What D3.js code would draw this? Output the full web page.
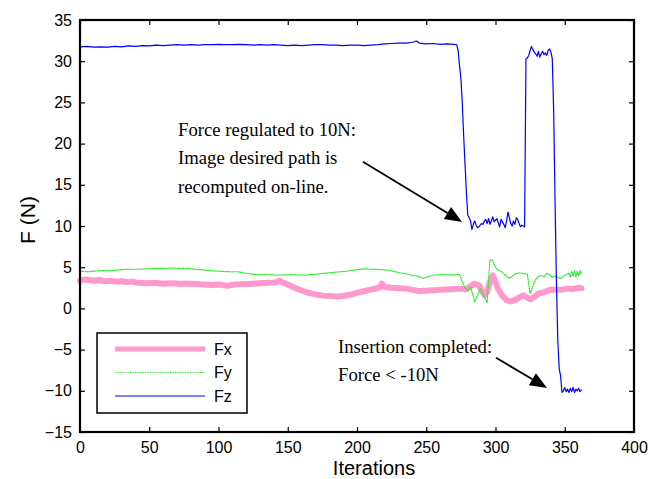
<!DOCTYPE html>
<html>
<head>
<meta charset="utf-8">
<script src="https://cdn.jsdelivr.net/npm/d3@7"></script>
<style>
  html, body { margin: 0; padding: 0; background: #fff; }
  svg { display: block; }
</style>
</head>
<body>
<svg id="chart" width="662" height="479"></svg>
<script>
// Force components measured during the peg insertion run (iteration, newtons)
const fxSamples = [
  [0,3.35],[3,3.5],[7,3.45],[10,3.35],[14,3.45],[18,3.3],[22,3.35],[26,3.25],[30,3.3],[34,3.2],
  [38,3.25],[42,3.1],[48,3.05],[54,3.1],[60,3.0],[66,3.05],[72,3.0],[78,3.0],[84,2.95],[90,2.9],
  [95,2.85],[100,2.9],[106,2.75],[112,2.9],[118,2.95],[124,3.0],[130,3.05],[136,3.1],[141,3.15],
  [144,3.35],[147,3.1],[150,2.9],[154,2.6],[158,2.3],[162,2.05],[166,1.85],[170,1.7],[175,1.55],
  [180,1.5],[185,1.45],[190,1.5],[195,1.65],[200,1.9],[204,2.05],[208,2.2],[212,2.35],[216,2.5],
  [218,3.0],[220,2.6],[225,2.5],[230,2.45],[235,2.4],[240,2.25],[245,2.1],[250,2.15],[255,2.2],
  [260,2.25],[265,2.3],[270,2.35],[275,2.4],[279,2.3],[282,2.7],[285,3.0],[288,2.8],[290,2.2],
  [292,1.6],[294,2.0],[296,3.3],[298,4.0],[300,3.2],[302,2.3],[305,1.5],[308,1.0],[311,0.85],
  [314,1.0],[317,1.3],[320,1.6],[322,1.4],[325,1.1],[328,1.4],[331,1.8],[334,1.9],[337,2.1],
  [340,2.3],[344,2.25],[348,2.3],[352,2.4],[356,2.35],[360,2.5],[362,2.45]
];

const fySamples = [
  [0,4.5],[6,4.45],[12,4.55],[18,4.6],[24,4.6],[30,4.7],[36,4.75],[42,4.75],[48,4.8],[54,4.85],
  [60,4.85],[66,4.9],[72,4.85],[78,4.85],[84,4.75],[90,4.65],[96,4.55],[102,4.5],[108,4.45],
  [114,4.45],[118,4.3],[122,4.2],[128,4.1],[134,4.1],[140,4.05],[146,4.05],[152,4.1],[158,4.05],
  [164,4.05],[170,4.15],[176,4.25],[182,4.35],[188,4.45],[194,4.55],[200,4.7],[206,4.8],[212,4.75],
  [218,4.7],[224,4.6],[230,4.35],[235,4.2],[240,4.0],[244,3.9],[248,3.65],[252,3.9],[256,4.05],
  [262,4.1],[268,4.05],[274,4.15],[276,3.2],[278,2.5],[280,2.2],[282,2.6],[285,0.8],[287,1.6],
  [289,2.4],[291,1.7],[294,0.7],[295,3.5],[296,5.9],[298,5.8],[300,5.0],[302,4.6],[304,4.5],
  [306,4.2],[308,3.9],[310,3.65],[312,3.9],[315,4.25],[318,4.3],[321,4.2],[323,4.15],[325,1.8],
  [327,2.7],[329,3.5],[331,3.9],[333,4.0],[335,3.8],[337,4.25],[339,4.1],[341,3.75],[343,3.9],
  [345,3.8],[347,3.6],[349,3.9],[351,4.1],[353,4.3],[354,3.8],[355,4.5],[356,3.9],[357,4.6],
  [358,3.8],[359,4.5],[360,4.0],[361,4.6],[362,4.1]
];

const fzSamples = [
  [0,31.75],[5,31.8],[10,31.7],[15,31.75],[20,31.7],[25,31.8],[30,31.75],[35,31.85],[40,31.8],
  [45,31.9],[50,31.85],[55,31.95],[60,31.9],[65,31.95],[70,32.0],[75,31.95],[80,32.0],[85,31.95],
  [90,32.0],[95,32.0],[100,32.05],[105,32.0],[110,32.0],[115,32.05],[120,32.0],[125,31.95],
  [130,32.0],[135,31.95],[140,32.0],[145,31.95],[150,31.9],[155,31.95],[160,31.9],[165,31.95],
  [170,32.0],[175,32.0],[180,31.95],[185,31.95],[190,31.9],[195,31.95],[200,31.95],[205,31.9],
  [210,31.95],[215,32.0],[220,32.1],[225,32.15],[230,32.2],[235,32.2],[240,32.3],[243,32.45],
  [245,32.2],[250,32.1],[255,32.15],[260,32.05],[265,32.1],[270,32.05],[272,32.0],
  [273,31.3],[274,29.5],[275,28.0],[276,25.0],[277,21.0],[278,17.5],[279,14.0],[280,11.3],
  [281,11.0],[282,10.6],[283,9.6],[284,10.2],[285,10.6],[286,10.1],[287,9.8],[288,9.9],[289,10.1],
  [290,10.3],[291,10.2],[292,10.6],[293,10.8],[294,10.3],[295,10.9],[296,10.2],[297,10.6],
  [298,11.1],[299,10.5],[300,10.7],[301,10.9],[302,10.4],[303,9.9],[304,10.8],[305,10.5],
  [306,10.2],[307,9.8],[308,10.6],[309,11.7],[310,11.0],[311,10.3],[312,10.0],[313,10.6],
  [314,10.2],[315,11.0],[316,10.8],[317,10.3],[318,9.9],[319,10.1],[320,10.0],[321,9.9],
  [322,30.3],[323,30.4],[324,30.7],[325,31.3],[326,31.8],[327,31.4],[328,31.1],[329,30.9],
  [330,30.6],[331,31.2],[332,30.5],[333,30.9],[334,31.2],[335,30.8],[336,31.0],[337,30.7],
  [338,31.3],[339,31.5],[340,31.1],[341,30.3],[342,24.0],[343,13.0],[344,3.0],[345,-4.0],
  [346,-7.3],[347,-8.2],[348,-10.2],[349,-10.0],[350,-9.6],[351,-10.1],[352,-9.8],[353,-10.2],
  [354,-9.7],[355,-10.1],[356,-9.6],[357,-10.2],[358,-9.8],[359,-10.0],[360,-9.7],[361,-10.1],
  [362,-9.9]
];

const seriesNames = ["Fx", "Fy", "Fz"];
const xTicks = [0, 50, 100, 150, 200, 250, 300, 350, 400];
const yTicks = [-15, -10, -5, 0, 5, 10, 15, 20, 25, 30, 35];

const noteRegulated = ["Force regulated to 10N:", "Image desired path is", "recomputed on-line."];
const noteInserted = ["Insertion completed:", "Force < -10N"];

// ---- layout ----
const margin = { left: 80, top: 20, right: 28, bottom: 47 };
const W = 662, H = 479;
const iw = W - margin.left - margin.right;
const ih = H - margin.top - margin.bottom;

const svg = d3.select("#chart");
svg.append("rect").attr("width", W).attr("height", H).attr("fill", "#fff");

const x = d3.scaleLinear().domain([0, 400]).range([margin.left, margin.left + iw]);
const y = d3.scaleLinear().domain([-15, 35]).range([margin.top + ih, margin.top]);

const sansFont = "'Liberation Sans', Arial, Helvetica, sans-serif";
const serifFont = "'Liberation Serif', 'Times New Roman', serif";

const styles = {
  Fx: { stroke: "#ff99cc", width: 6, dash: null },
  Fy: { stroke: "#22ee22", width: 1.2, dash: "1.2,1.3" },
  Fz: { stroke: "#0000ff", width: 1.2, dash: null }
};

const line = d3.line().x(d => x(d[0])).y(d => y(d[1]));

const plot = svg.append("g");
const data = { Fx: fxSamples, Fy: fySamples, Fz: fzSamples };

// draw order: thick pink first, then dotted green, then blue on top
["Fx", "Fy", "Fz"].forEach(k => {
  plot.append("path")
    .datum(data[k])
    .attr("fill", "none")
    .attr("stroke", styles[k].stroke)
    .attr("stroke-width", styles[k].width)
    .attr("stroke-linejoin", "round")
    .attr("stroke-linecap", "round")
    .attr("stroke-dasharray", styles[k].dash)
    .attr("d", line);
});

// ---- axes: ticks inward on all four sides ----
const tickLen = 5;
const axisFont = 16;

const axBottom = svg.append("g").attr("transform", `translate(0,${y(-15)})`)
  .call(d3.axisBottom(x).tickValues(xTicks).tickSizeInner(-tickLen).tickSizeOuter(0).tickPadding(14));
const axTop = svg.append("g").attr("transform", `translate(0,${y(35)})`)
  .call(d3.axisTop(x).tickValues(xTicks).tickSizeInner(-tickLen).tickSizeOuter(0).tickFormat(""));
const axLeft = svg.append("g").attr("transform", `translate(${x(0)},0)`)
  .call(d3.axisLeft(y).tickValues(yTicks).tickSizeInner(-tickLen).tickSizeOuter(0).tickPadding(14));
const axRight = svg.append("g").attr("transform", `translate(${x(400)},0)`)
  .call(d3.axisRight(y).tickValues(yTicks).tickSizeInner(-tickLen).tickSizeOuter(0).tickFormat(""));

[axBottom, axTop, axLeft, axRight].forEach(g => {
  g.select(".domain").remove();
  g.selectAll(".tick line").attr("stroke", "#000").attr("stroke-width", 1.2);
  g.selectAll(".tick text")
    .attr("fill", "#000")
    .style("font-family", sansFont)
    .style("font-size", axisFont + "px");
});
axLeft.selectAll(".tick text").attr("x", -8);
axBottom.selectAll(".tick text").attr("y", 10);

// frame
svg.append("rect")
  .attr("x", x(0)).attr("y", y(35))
  .attr("width", x(400) - x(0)).attr("height", y(-15) - y(35))
  .attr("fill", "none").attr("stroke", "#000").attr("stroke-width", 2.2);

// axis titles
svg.append("text")
  .attr("x", 374).attr("y", 474.8)
  .attr("text-anchor", "middle")
  .style("font-family", sansFont).style("font-size", "20px")
  .text("Iterations");

svg.append("text")
  .attr("transform", `translate(35,220) rotate(-90)`)
  .attr("text-anchor", "middle")
  .style("font-family", sansFont).style("font-size", "21px")
  .text("F (N)");

// ---- legend ----
const legend = svg.append("g");
legend.append("rect")
  .attr("x", 97).attr("y", 333).attr("width", 150).attr("height", 80)
  .attr("fill", "#fff").attr("stroke", "#000").attr("stroke-width", 1.5);

seriesNames.forEach((k, i) => {
  const ly = 349 + i * 23.5;
  legend.append("line")
    .attr("x1", 115).attr("x2", 205).attr("y1", ly).attr("y2", ly)
    .attr("stroke", styles[k].stroke)
    .attr("stroke-width", k === "Fx" ? 5 : styles[k].width)
    .attr("stroke-dasharray", styles[k].dash);
  legend.append("text")
    .attr("x", 214).attr("y", ly).attr("dy", "0.36em")
    .style("font-family", sansFont).style("font-size", "16px")
    .text(k);
});

// ---- annotations ----
function arrow(x0, y0, x1, y1) {
  const px0 = x(x0), py0 = y(y0), px1 = x(x1), py1 = y(y1);
  const ang = Math.atan2(py1 - py0, px1 - px0);
  const L = 17, Wd = 7;
  const bx = px1 - L * Math.cos(ang), by = py1 - L * Math.sin(ang);
  svg.append("line")
    .attr("x1", px0).attr("y1", py0).attr("x2", bx).attr("y2", by)
    .attr("stroke", "#000").attr("stroke-width", 1.8);
  const pts = [
    [px1, py1],
    [bx + Wd * Math.sin(ang), by - Wd * Math.cos(ang)],
    [bx - Wd * Math.sin(ang), by + Wd * Math.cos(ang)]
  ];
  svg.append("polygon").attr("points", pts.map(p => p.join(",")).join(" ")).attr("fill", "#000");
}

function note(lines, xv, yv, lineGap) {
  const t = svg.append("text")
    .style("font-family", serifFont).style("font-size", "18.7px").attr("fill", "#000");
  lines.forEach((s, i) => {
    t.append("tspan").attr("x", x(xv)).attr("y", y(yv) + i * lineGap).text(s);
  });
}

note(noteRegulated, 70.8, 20.9, 28.3);
arrow(204.3, 17.8, 275.8, 10.5);

note(noteInserted, 186.3, -5.4, 28);
arrow(300.4, -6.0, 337.2, -9.65);
</script>
</body>
</html>
